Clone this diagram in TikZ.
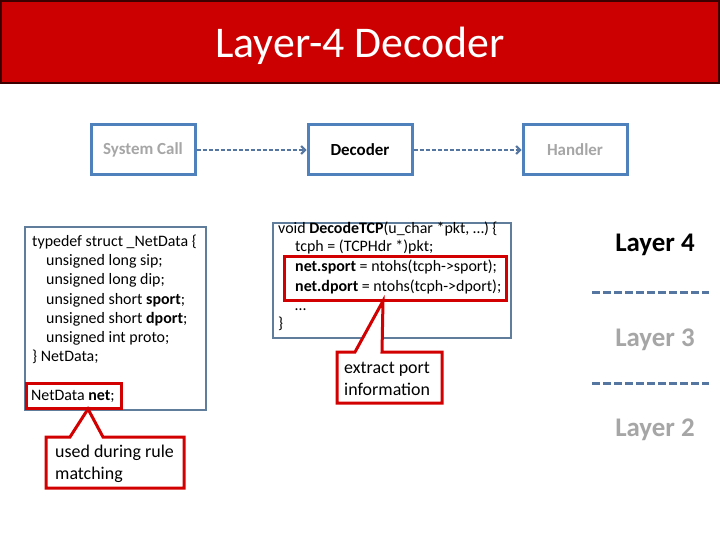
\documentclass[tikz,border=0pt]{standalone}
\usepackage{fontspec}
\setmainfont{Carlito}
\usetikzlibrary{arrows.meta}
\definecolor{banner}{RGB}{204,0,0}
\definecolor{calred}{RGB}{210,0,0}
\definecolor{boxblue}{RGB}{79,129,189}
\definecolor{codeblue}{RGB}{96,126,156}
\definecolor{dimgray}{RGB}{166,166,166}
\definecolor{dashblue}{RGB}{84,118,160}
\tikzset{
  flowbox/.style={draw=boxblue,line width=3bp,fill=white,minimum width=104bp,minimum height=50bp,font=\fontsize{17}{20}\selectfont\bfseries},
  codebox/.style={draw=codeblue,line width=2bp,fill=white},
  hilite/.style={draw=calred,line width=3bp},
  callout/.style={draw=calred,line width=3bp,fill=white,line join=miter},
  codetext/.style={inner sep=0pt,anchor=base west,font=\fontsize{16}{19}\selectfont},
  calltext/.style={inner sep=0pt,anchor=base west,font=\fontsize{18}{21}\selectfont},
  flowarrow/.style={draw=dashblue,line width=1.8bp,dash pattern=on 4bp off 2bp,-{Straight Barb[length=4bp,width=8bp,line width=2bp]}},
  layersep/.style={draw=dashblue,line width=3bp,dash pattern=on 8bp off 3bp},
  layertext/.style={font=\fontsize{27}{32}\selectfont\bfseries}
}
\begin{document}
\begin{tikzpicture}[x=1bp,y=-1bp]
\useasboundingbox (0,0) rectangle (720,540);
\fill[white] (0,0) rectangle (720,540);
% banner
\draw[fill=banner,draw=black!70!banner,line width=1.5bp] (1,1) rectangle (719,83);
\node[text=white,font=\fontsize{44}{48}\selectfont] (title) at (360,46) {Layer-4 Decoder};
% top flow
\node[flowbox,text=dimgray] (sys) at (143,150) {System Call};
\node[flowbox,text=black] (dec) at (360,150) {Decoder};
\node[flowbox,text=dimgray] (hand) at (575,150) {Handler};
\draw[flowarrow] (sys) -- (dec);
\draw[flowarrow] (dec) -- (hand);
% left code box
\draw[codebox] (25,227) rectangle (206,410);
\node[codetext] (l1) at (32,247) {typedef struct \_NetData \{};
\node[codetext] (l2) at (46,266) {unsigned long sip;};
\node[codetext] (l3) at (46,285) {unsigned long dip;};
\node[codetext] (l4) at (46,304) {unsigned short \textbf{sport};};
\node[codetext] (l5) at (46,323) {unsigned short \textbf{dport};};
\node[codetext] (l6) at (46,342) {unsigned int proto;};
\node[codetext] (l7) at (32,361) {\} NetData;};
\node[codetext] (l8) at (31,400) {NetData \textbf{net};};
\draw[hilite] (26,383) rectangle (121,408);
% middle code box
\draw[codebox] (273,223) rectangle (511,338);
\node[codetext] (m1) at (278,234) {void \textbf{DecodeTCP}(u\_char *pkt, …) \{};
\node[codetext] (m2) at (295,252) {tcph = (TCPHdr *)pkt;};
\node[codetext] (m3) at (295,272) {\textbf{net.sport} = ntohs(tcph->sport);};
\node[codetext] (m4) at (295,291) {\textbf{net.dport} = ntohs(tcph->dport);};
\node[codetext] (m5) at (295,310) {…};
\node[codetext] (m6) at (278,328) {\}};
\draw[hilite] (284,257) rectangle (506,300);
% callouts
\draw[callout] (46,437) -- (70,437) -- (88,409) -- (103,437) -- (184,437) -- (184,488) -- (46,488) -- cycle;
\node[calltext] (c1) at (55,457) {used during rule};
\node[calltext] (c1b) at (55,479) {matching};
\draw[callout] (337,352) -- (355,352) -- (383,301) -- (382,352) -- (442,352) -- (442,403) -- (337,403) -- cycle;
\node[calltext] (c2) at (344,373) {extract port};
\node[calltext] (c2b) at (344,395) {information};
% layers
\node[layertext] (L4) at (655,245) {Layer 4};
\coordinate (s1a) at (592,292);
\coordinate (s1b) at (709,292);
\draw[layersep] (s1a) -- (s1b);
\node[layertext,text=dimgray] (L3) at (655,340) {Layer 3};
\coordinate (s2a) at (592,383);
\coordinate (s2b) at (709,383);
\draw[layersep] (s2a) -- (s2b);
\node[layertext,text=dimgray] (L2) at (655,430) {Layer 2};
\end{tikzpicture}
\end{document}
